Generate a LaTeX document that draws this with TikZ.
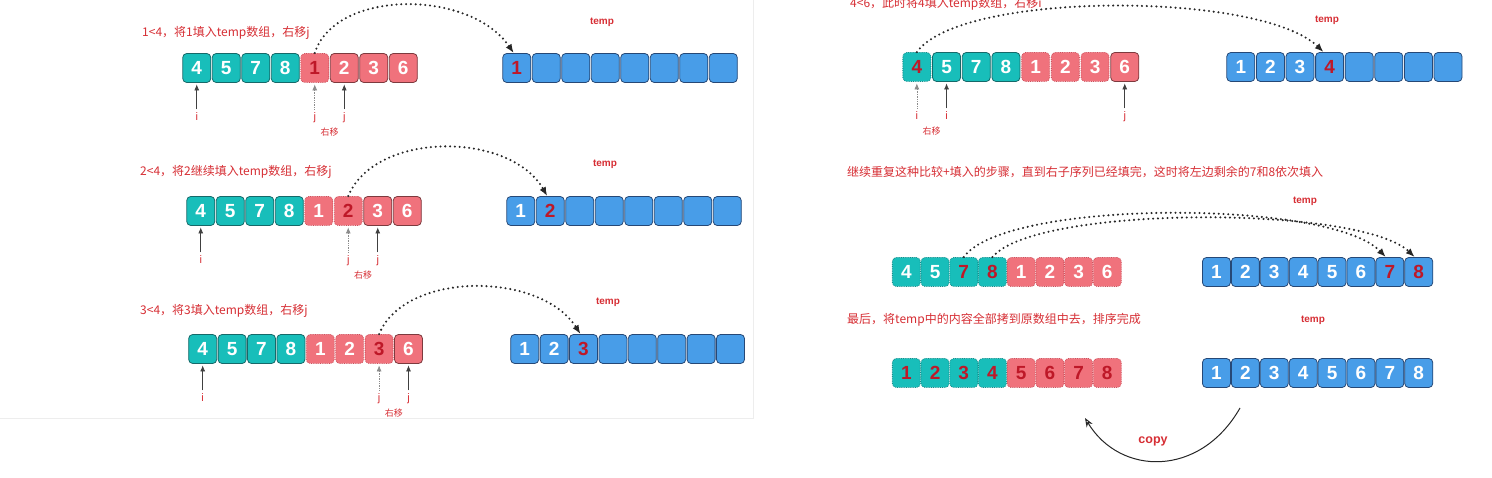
\documentclass[tikz,border=0pt]{standalone}
\usepackage{fontspec}
\setmainfont{Liberation Sans}
\newfontfamily\cjk{Noto Sans CJK SC}
\usetikzlibrary{arrows.meta,positioning,calc}

\definecolor{tealc}{RGB}{24,190,186}
\definecolor{tealdk}{RGB}{22,105,105}
\definecolor{tealdt}{RGB}{20,140,138}
\definecolor{pinkc}{RGB}{240,114,124}
\definecolor{pinkdk}{RGB}{125,58,62}
\definecolor{pinkdt}{RGB}{205,80,92}
\definecolor{bluec}{RGB}{72,157,232}
\definecolor{bluedk}{RGB}{38,72,118}
\definecolor{hotred}{RGB}{190,24,40}
\definecolor{notered}{RGB}{214,46,52}

\tikzset{
  cell/.style={draw, rounded corners=4pt, minimum width=28pt, minimum height=29pt,
    inner sep=0pt, line width=0.8pt, text=white, font=\bfseries\fontsize{19}{19}\selectfont},
  sA/.style={cell, fill=tealc, draw=tealdk},
  sAd/.style={sA, densely dotted, draw=tealdt},
  sAdr/.style={sAd, text=hotred},
  sB/.style={cell, fill=pinkc, draw=pinkdk},
  sBd/.style={sB, densely dotted, draw=pinkdt},
  sBdr/.style={sBd, text=hotred},
  sT/.style={cell, fill=bluec, draw=bluedk},
  sTr/.style={sT, text=hotred},
  note/.style={anchor=west, text=notered, inner sep=0pt, font=\cjk\fontsize{12}{12}\selectfont},
  tmp/.style={text=notered, inner sep=0pt, font=\bfseries\fontsize{10}{10}\selectfont},
  idx/.style={text=notered, inner sep=0pt, text height=8pt, text depth=0pt, font=\fontsize{11}{11}\selectfont},
  mv/.style={text=notered, anchor=north, yshift=-7pt, inner sep=0pt, font=\cjk\fontsize{9}{9}\selectfont},
  ptr/.style={-{Latex[length=6pt,width=5pt]}, line width=0.7pt, black!75, shorten <=2.5pt, shorten >=1.5pt},
  ptrd/.style={ptr, densely dotted, black!45},
  hop/.style={-{Latex[length=9pt,width=7pt]}, line width=2.3pt, dash pattern=on 0pt off 4.8pt,
    line cap=round, black!85},
  copyarr/.style={-{Stealth[open,length=9pt,width=7pt]}, line width=1pt, black!85},
}

\begin{document}
\begin{tikzpicture}[x=1pt,y=-1pt]
\useasboundingbox (0,0) rectangle (1492,478);
\draw[black!7, line width=0.6pt] (753,0) -- (753,418) -- (0,418);

% step 1
\node[note] (n1) at (142,33) {1<4，将1填入temp数组，右移j};
\node[tmp] (tp1) at (602,22) {temp};
\foreach \v/\st [count=\k] in {4/sA,5/sA,7/sA,8/sA,1/sBdr,2/sB,3/sB,6/sB}
  \node[\st] (L1-\k) at ({182+(\k-0.5)*29.5},68) {\v};
\foreach \v/\st [count=\k] in {1/sTr,/sT,/sT,/sT,/sT,/sT,/sT,/sT}
  \node[\st] (T1-\k) at ({502+(\k-0.5)*29.5},68) {\v};
\node[idx, below=29pt of L1-1] (i1) {i};
\node[idx, below=29pt of L1-5] (j1a) {j};
\node[idx, below=29pt of L1-6] (j1b) {j};
\node[mv] (m1) at ($(j1a.south)!.5!(j1b.south)$) {右移};
\draw[ptr] (i1) -- (L1-1);
\draw[ptrd] (j1a) -- (L1-5);
\draw[ptr] (j1b) -- (L1-6);
\draw[hop] (L1-5.north) .. controls (335,-11) and (470,-11) .. ([xshift=-3pt]T1-1.north);

% step 2
\node[note] (n2) at (140,172) {2<4，将2继续填入temp数组，右移j};
\node[tmp] (tp2) at (605,164) {temp};
\foreach \v/\st [count=\k] in {4/sA,5/sA,7/sA,8/sA,1/sBd,2/sBdr,3/sB,6/sB}
  \node[\st] (L2-\k) at ({186+(\k-0.5)*29.5},211) {\v};
\foreach \v/\st [count=\k] in {1/sT,2/sTr,/sT,/sT,/sT,/sT,/sT,/sT}
  \node[\st] (T2-\k) at ({506+(\k-0.5)*29.5},211) {\v};
\node[idx, below=29pt of L2-1] (i2) {i};
\node[idx, below=29pt of L2-6] (j2a) {j};
\node[idx, below=29pt of L2-7] (j2b) {j};
\node[mv] (m2) at ($(j2a.south)!.5!(j2b.south)$) {右移};
\draw[ptr] (i2) -- (L2-1);
\draw[ptrd] (j2a) -- (L2-6);
\draw[ptr] (j2b) -- (L2-7);
\draw[hop] (L2-6.north) .. controls (375,131) and (510,131) .. ([xshift=-3pt]T2-2.north);

% step 3
\node[note] (n3) at (140,311) {3<4，将3填入temp数组，右移j};
\node[tmp] (tp3) at (608,302) {temp};
\foreach \v/\st [count=\k] in {4/sA,5/sA,7/sA,8/sA,1/sBd,2/sBd,3/sBdr,6/sB}
  \node[\st] (L3-\k) at ({188+(\k-0.5)*29.4},349) {\v};
\foreach \v/\st [count=\k] in {1/sT,2/sT,3/sTr,/sT,/sT,/sT,/sT,/sT}
  \node[\st] (T3-\k) at ({510+(\k-0.5)*29.4},349) {\v};
\node[idx, below=29pt of L3-1] (i3) {i};
\node[idx, below=29pt of L3-7] (j3a) {j};
\node[idx, below=29pt of L3-8] (j3b) {j};
\node[mv] (m3) at ($(j3a.south)!.5!(j3b.south)$) {右移};
\draw[ptr] (i3) -- (L3-1);
\draw[ptrd] (j3a) -- (L3-7);
\draw[ptr] (j3b) -- (L3-8);
\draw[hop] (L3-7.north) .. controls (405,271) and (540,271) .. ([xshift=-3pt]T3-3.north);

% step 4
\node[note] (n4) at (850,4) {4<6，此时将4填入temp数组，右移i};
\node[tmp] (tp4) at (1327,20) {temp};
\foreach \v/\st [count=\k] in {4/sAdr,5/sA,7/sA,8/sA,1/sBd,2/sBd,3/sBd,6/sB}
  \node[\st] (R1-\k) at ({902+(\k-0.5)*29.7},67) {\v};
\foreach \v/\st [count=\k] in {1/sT,2/sT,3/sT,4/sTr,/sT,/sT,/sT,/sT}
  \node[\st] (U1-\k) at ({1226+(\k-0.5)*29.6},67) {\v};
\node[idx, below=29pt of R1-1] (i4a) {i};
\node[idx, below=29pt of R1-2] (i4b) {i};
\node[idx, below=29pt of R1-8] (j4) {j};
\node[mv] (m4) at ($(i4a.south)!.5!(i4b.south)$) {右移};
\draw[ptrd] (i4a) -- (R1-1);
\draw[ptr] (i4b) -- (R1-2);
\draw[ptr] (j4) -- (R1-8);
\draw[hop] (R1-1.north) .. controls (960,-9) and (1260,-9) .. ([xshift=-6pt]U1-4.north);

% fill the rest
\node[note] (n5) at (847,172) {继续重复这种比较+填入的步骤，直到右子序列已经填完，这时将左边剩余的7和8依次填入};
\node[tmp] (tp5) at (1305,201) {temp};
\foreach \v/\st [count=\k] in {4/sAd,5/sAd,7/sAdr,8/sAdr,1/sBd,2/sBd,3/sBd,6/sBd}
  \node[\st] (R2-\k) at ({892+(\k-0.5)*28.7},272) {\v};
\foreach \v/\st [count=\k] in {1/sT,2/sT,3/sT,4/sT,5/sT,6/sT,7/sTr,8/sTr}
  \node[\st] (U2-\k) at ({1202+(\k-0.5)*28.9},272) {\v};
\draw[hop] (R2-3.north) .. controls (1005,199) and (1330,199) .. ([xshift=-4pt]U2-7.north);
\draw[hop] (R2-4.north) .. controls (1035,205) and (1360,205) .. ([xshift=-4pt]U2-8.north);

% copy back
\node[note] (n6) at (847,320) {最后，将temp中的内容全部拷到原数组中去，排序完成};
\node[tmp] (tp6) at (1313,320) {temp};
\foreach \v/\st [count=\k] in {1/sAdr,2/sAdr,3/sAdr,4/sAdr,5/sBdr,6/sBdr,7/sBdr,8/sBdr}
  \node[\st] (R3-\k) at ({892+(\k-0.5)*28.7},373) {\v};
\foreach \v/\st [count=\k] in {1/sT,2/sT,3/sT,4/sT,5/sT,6/sT,7/sT,8/sT}
  \node[\st] (U3-\k) at ({1202+(\k-0.5)*28.9},373) {\v};
\coordinate (cpA) at (1240,408);
\coordinate (cpB) at (1085,418);
\draw[copyarr] (cpA) .. controls (1200,478) and (1120,476) .. (cpB);
\node[text=notered, font=\bfseries\fontsize{12.5}{13}\selectfont] (cp) at (1153,441) {copy};
\end{tikzpicture}
\end{document}
